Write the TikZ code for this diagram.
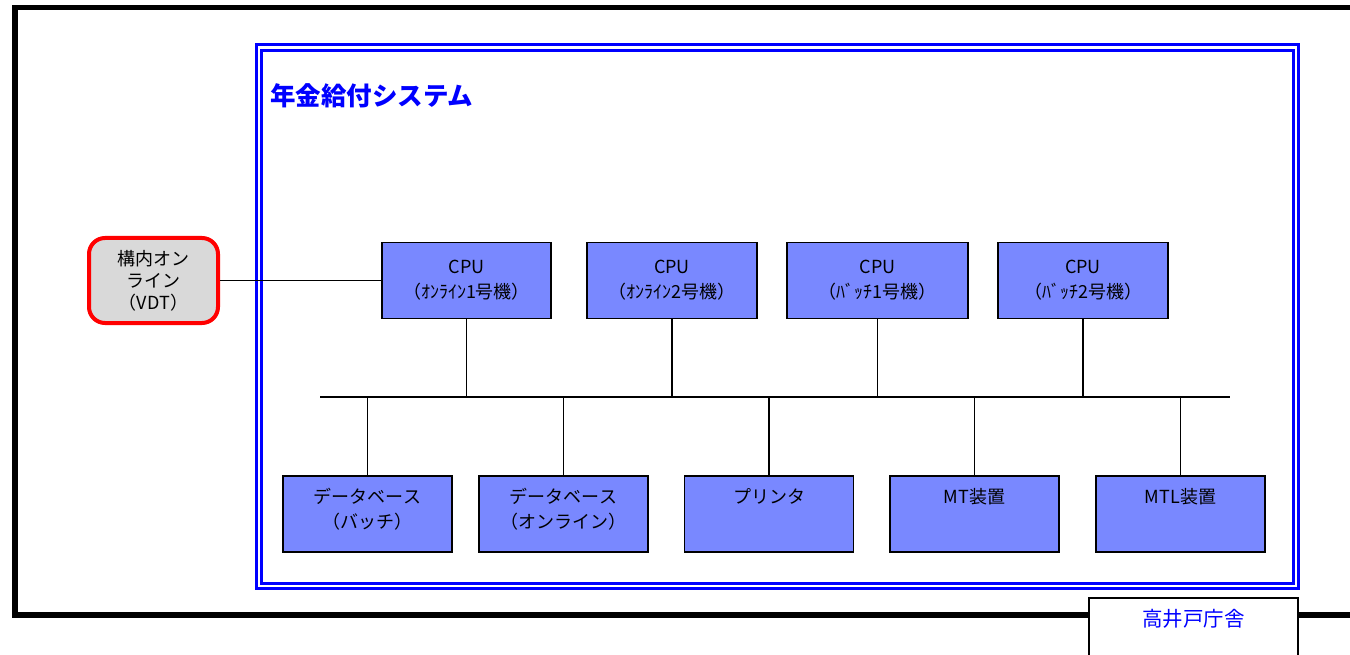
\documentclass[tikz,border=0pt]{standalone}
\usepackage{fontspec}
\setmainfont{Noto Sans CJK JP}
\usetikzlibrary{positioning}
\usetikzlibrary{calc}
\definecolor{boxblue}{RGB}{121,136,255}
\definecolor{vdtgray}{RGB}{217,217,217}

\begin{document}
\begin{tikzpicture}[x=1pt,y=-1pt,
  unit/.style={draw,line width=1.6pt,fill=boxblue,minimum width=169pt,minimum height=76pt,inner sep=0pt},
  txt/.style={align=center,inner sep=0pt,font=\fontsize{18}{25}\selectfont},
  vdt/.style={draw=red,line width=4pt,fill=vdtgray,rounded corners=16pt,minimum width=129pt,minimum height=85pt,inner sep=0pt,align=center,font=\fontsize{18}{22}\selectfont},
  site/.style={draw,line width=1.2pt,fill=white,minimum width=209pt,minimum height=80pt}]
\clip (0,0) rectangle (1350,655);
% frames
\draw[line width=5.5pt] (15,7.5) rectangle (1400,615);
\draw[blue,line width=3pt] (256.5,44.5) rectangle (1298,588);
\draw[blue,line width=3pt] (261.5,50.5) rectangle (1293.5,583);
\node[anchor=west,inner sep=0pt,blue,font=\fontsize{25.5}{25.5}\selectfont\bfseries] (title) at (270,96) {年金給付システム};

\coordinate (busL) at (320,397);
\coordinate (busR) at (1230,397);
\draw[line width=1.5pt] (busL) -- (busR);

\foreach \x/\w/\t [count=\i] in {466.5/169/ｵﾝﾗｲﾝ1号機,672/170/ｵﾝﾗｲﾝ2号機,877.5/181/ﾊﾞｯﾁ1号機,1083/170/ﾊﾞｯﾁ2号機} {
  \node[unit,txt,minimum width=\w pt] (cpu\i) at (\x,280.5) {CPU\\（\t）};
  \draw[line width=1.5pt] (cpu\i.south) -- (cpu\i.south |- busL);
  }

\foreach \x/\t [count=\i] in {367.5/{データベース\\（バッチ）},563.5/{データベース\\（オンライン）},769/プリンタ,974.5/MT装置,1180.5/MTL装置} {
  \node[unit] (dev\i) at (\x,514) {};
  \node[txt,anchor=north] (devname\i) at ([yshift=-13pt]dev\i.north) {\t};
  \draw[line width=1.5pt] (dev\i.north) -- (dev\i.north |- busL);
  }

\node[vdt] (vdt) at (153.5,280.5) {構内オン\\ライン\\（VDT）};
\draw[line width=1.5pt] (vdt.east) -- (vdt.east -| cpu1.west);

\node[site] (site) at (1193.5,638) {};
\node[anchor=north,inner sep=0pt,blue,font=\fontsize{20.5}{20.5}\selectfont] (sitename) at ([yshift=-12pt]site.north) {高井戸庁舎};
\end{tikzpicture}
\end{document}
